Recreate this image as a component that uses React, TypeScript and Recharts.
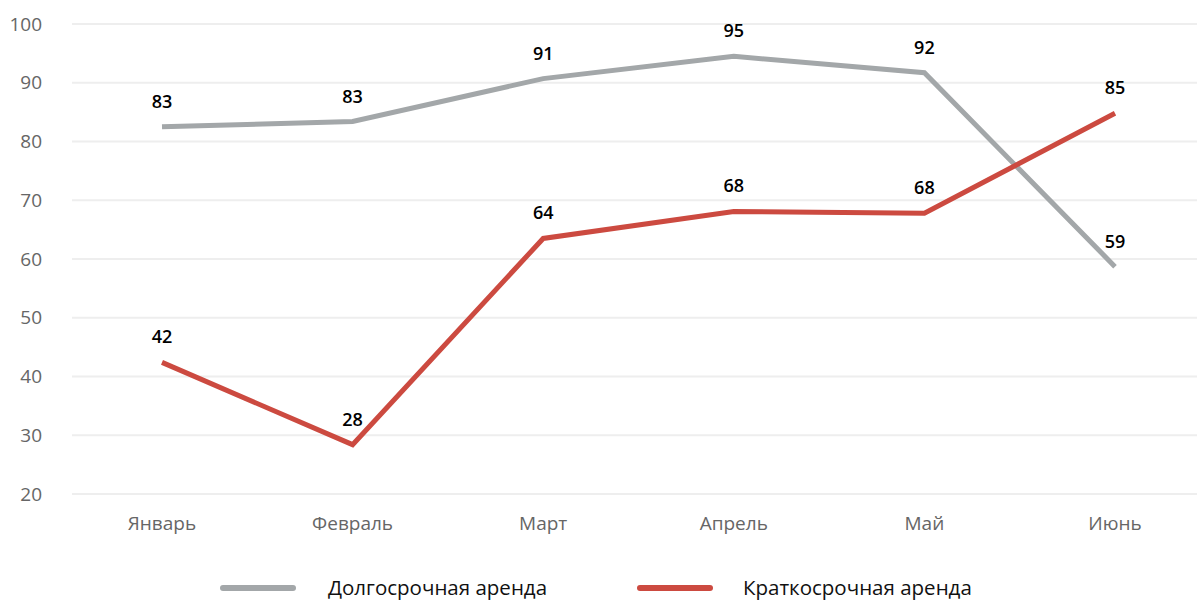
import { CartesianGrid, LabelList, Legend, Line, LineChart, XAxis, YAxis } from "recharts"

const months = ["Январь", "Февраль", "Март", "Апрель", "Май", "Июнь"]
const longTerm = [82.5, 83.4, 90.7, 94.5, 91.7, 58.7]
const shortTerm = [42.4, 28.4, 63.5, 68.1, 67.8, 84.8]
const yTicks = [20, 30, 40, 50, 60, 70, 80, 90, 100]

const data = months.map((month, i) => ({
  month,
  long: longTerm[i],
  short: shortTerm[i],
}))

const font = "'Open Sans', sans-serif"

function LegendContent() {
  const items = [
    { name: "Долгосрочная аренда", color: "#a3a7a9", lineX: 220, textX: 328 },
    { name: "Краткосрочная аренда", color: "#cc4a40", lineX: 637, textX: 743 },
  ]
  return (
    <div style={{ position: "relative", height: 46, fontFamily: font }}>
      {items.map((it) => (
        <div key={it.name}>
          <div
            style={{
              position: "absolute",
              left: it.lineX,
              top: 31,
              width: 76,
              height: 6,
              borderRadius: 3,
              background: it.color,
            }}
          />
          <div
            style={{
              position: "absolute",
              left: it.textX,
              top: 19,
              fontSize: 20.5,
              color: "#111",
              whiteSpace: "nowrap",
            }}
          >
            {it.name}
          </div>
        </div>
      ))}
    </div>
  )
}

export default function App() {
  return (
    <div style={{ position: "absolute", left: 0, top: 0, width: 1197, height: 600, background: "#fff", overflow: "hidden" }}>
      <LineChart width={1197} height={600} data={data} margin={{ top: 24, right: 0, left: 0, bottom: 0 }}>
        <CartesianGrid vertical={false} stroke="#eeeeee" strokeWidth={2} />
        <XAxis
          dataKey="month"
          axisLine={false}
          tickLine={false}
          padding={{ left: 90, right: 82 }}
          tick={{ fill: "#666", fontSize: 19, fontFamily: font }}
          height={60}
          tickMargin={17}
        />
        <YAxis
          domain={[20, 100]}
          ticks={yTicks}
          axisLine={false}
          tickLine={false}
          width={72}
          tickMargin={24}
          tick={{ fill: "#666", fontSize: 19, fontFamily: font }}
        />
        <Legend verticalAlign="bottom" height={46} content={<LegendContent />} />
        <Line
          dataKey="long"
          name="Долгосрочная аренда"
          stroke="#a3a7a9"
          strokeWidth={5}
          dot={false}
          activeDot={false}
          isAnimationActive={false}
        >
          <LabelList
            dataKey="long"
            position="top"
            offset={19}
            formatter={(v: number) => Math.round(v)}
            style={{ fill: "#000", fontSize: 18, fontWeight: 600, fontFamily: font }}
          />
        </Line>
        <Line
          dataKey="short"
          name="Краткосрочная аренда"
          stroke="#cc4a40"
          strokeWidth={5}
          dot={false}
          activeDot={false}
          isAnimationActive={false}
        >
          <LabelList
            dataKey="short"
            position="top"
            offset={19}
            formatter={(v: number) => Math.round(v)}
            style={{ fill: "#000", fontSize: 18, fontWeight: 600, fontFamily: font }}
          />
        </Line>
      </LineChart>
    </div>
  )
}
